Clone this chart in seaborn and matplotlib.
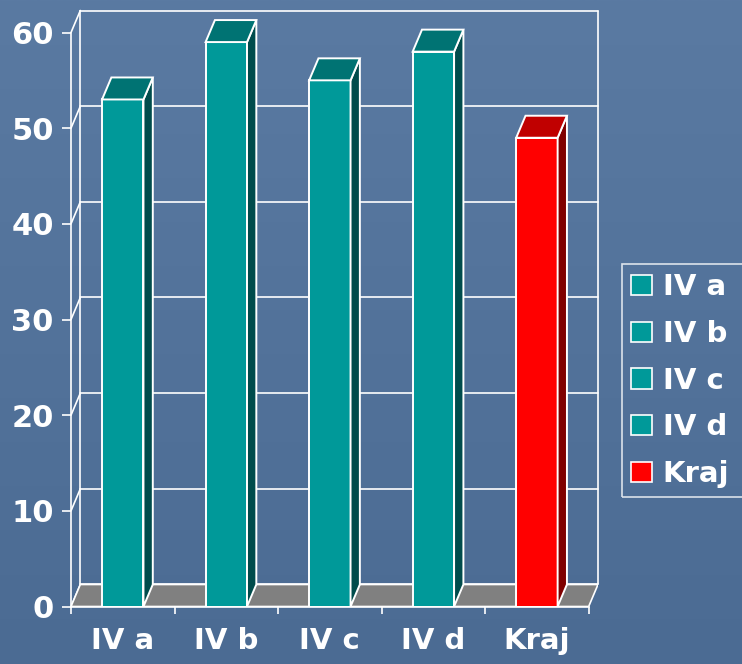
import numpy as np
import matplotlib.pyplot as plt
import seaborn as sns
from matplotlib.colors import LinearSegmentedColormap
from matplotlib.patches import Polygon, Patch

categories = ['IV a', 'IV b', 'IV c', 'IV d', 'Kraj']
values = [53, 59, 55, 58, 49]
y_ticks = [0, 10, 20, 30, 40, 50, 60]

front_colors = ['#009999', '#009999', '#009999', '#009999', '#ff0000']
top_colors = ['#007373', '#007373', '#007373', '#007373', '#c00000']
side_colors = ['#004c4c', '#004c4c', '#004c4c', '#004c4c', '#800000']

# desplazamiento de profundidad (efecto 3D)
DX = 0.09
DY = 2.3

sns.set_theme(style='white')
plt.rcParams['font.family'] = ['DejaVu Sans']

fig = plt.figure(figsize=(7.42, 6.64), dpi=100)

# fondo azul
bg = fig.add_axes([0, 0, 1, 1], zorder=0)
grad = np.linspace(0, 1, 256).reshape(-1, 1)
bg_cmap = LinearSegmentedColormap.from_list('bg', ['#5a7aa2', '#4b6b93'])
bg.imshow(grad, cmap=bg_cmap, aspect='auto', extent=[0, 1, 0, 1])
bg.axis('off')

ax = fig.add_axes([71 / 742, 57.5 / 664, 527 / 742, 596 / 664], zorder=1)
ax.patch.set_alpha(0)

sns.barplot(x=categories, y=values, hue=categories, palette=front_colors,
            width=0.4, ax=ax, legend=False, edgecolor='white', linewidth=1.4,
            saturation=1, zorder=3)

xmin, xmax = -0.5, len(categories) - 0.5
ymax = y_ticks[-1]

# suelo gris
floor = Polygon([(xmin, 0), (xmax, 0), (xmax + DX, DY), (xmin + DX, DY)],
                closed=True, facecolor='#808080', edgecolor='white', lw=1.2, zorder=2)
ax.add_patch(floor)

# rejilla en pared trasera y lateral
line_kw = dict(color='white', lw=1.2, zorder=1, clip_on=False)
for v in y_ticks:
    ax.plot([xmin + DX, xmax + DX], [v + DY, v + DY], **line_kw)
    ax.plot([xmin, xmin + DX], [v, v + DY], **line_kw)
ax.plot([xmin + DX, xmin + DX], [DY, ymax + DY], **line_kw)
ax.plot([xmax + DX, xmax + DX], [DY, ymax + DY], **line_kw)

# caras superior y lateral de las barras
for i, p in enumerate(ax.patches[:len(categories)]):
    x0, w, h = p.get_x(), p.get_width(), p.get_height()
    top = Polygon([(x0, h), (x0 + w, h), (x0 + w + DX, h + DY), (x0 + DX, h + DY)],
                  closed=True, facecolor=top_colors[i], edgecolor='white', lw=1.4, zorder=3)
    side = Polygon([(x0 + w, 0), (x0 + w + DX, DY), (x0 + w + DX, h + DY), (x0 + w, h)],
                   closed=True, facecolor=side_colors[i], edgecolor='white', lw=1.4, zorder=3)
    ax.add_patch(side)
    ax.add_patch(top)

ax.set_xlim(xmin, xmax + DX)
ax.set_ylim(0, ymax + DY)

for s in ['top', 'right']:
    ax.spines[s].set_visible(False)
ax.spines['left'].set_bounds(0, ymax)
ax.spines['bottom'].set_bounds(xmin, xmax)
for s in ['left', 'bottom']:
    ax.spines[s].set_color('white')
    ax.spines[s].set_linewidth(1.2)
    ax.spines[s].set_zorder(4)

ax.set_yticks(y_ticks)
ax.set_xticks(range(len(categories)))
ax.set_xticklabels(categories)
ax.set_xticks(np.arange(xmin, xmax + 0.01, 1), minor=True)
ax.tick_params(axis='y', length=6.5, width=1.2, color='white', pad=6,
               labelsize=22, labelcolor='white', left=True)
ax.tick_params(axis='x', which='major', length=0, pad=15, labelsize=21, labelcolor='white')
ax.tick_params(axis='x', which='minor', length=5, width=1.2, color='white', bottom=True)
for t in ax.get_xticklabels() + ax.get_yticklabels():
    t.set_fontweight('bold')
ax.set_xlabel('')
ax.set_ylabel('')

handles = [Patch(facecolor=c, edgecolor='white', lw=1.2, label=l)
           for c, l in zip(front_colors, categories)]
leg = fig.legend(handles=handles, loc='upper left',
                 bbox_to_anchor=(622 / 742, 0.2524, 0.2, 0.35), mode='expand',
                 borderaxespad=0, frameon=True, fancybox=False, facecolor='none',
                 edgecolor='white', prop={'weight': 'bold', 'size': 21},
                 labelcolor='white', handlelength=0.7, handleheight=0.7,
                 handletextpad=0.38, labelspacing=0.64, borderpad=0.32)
leg.get_frame().set_linewidth(1.2)

plt.savefig('out.png', dpi=100)
plt.close()
